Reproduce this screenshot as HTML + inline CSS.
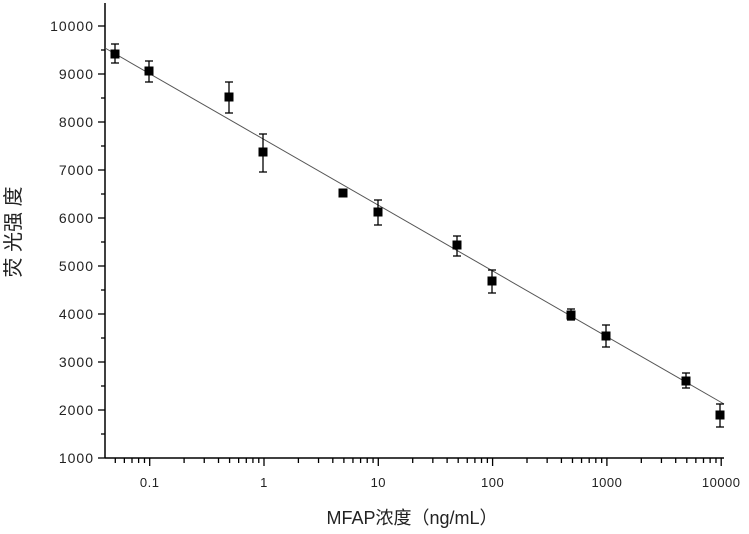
<!DOCTYPE html><html><head><style>body{margin:0;background:#fff}svg{display:block}</style></head><body>
<svg width="749" height="534" xmlns="http://www.w3.org/2000/svg" font-family="Liberation Sans, Noto Sans CJK SC, sans-serif">
<g stroke="#000" stroke-width="1.5" fill="none">
<line x1="105" y1="3" x2="105" y2="458"/>
<line x1="105" y1="458" x2="724" y2="458"/>
</g>
<g id="yt" stroke="#000" stroke-width="1.3"></g>
<g id="xt" stroke="#000" stroke-width="1.3"></g>
<g id="yl" font-size="14" fill="#222" text-anchor="end" letter-spacing="1"></g>
<g id="xl" font-size="13" fill="#222" text-anchor="middle" letter-spacing="0.5"></g>
<line x1="105" y1="48" x2="724" y2="404" stroke="#555" stroke-width="1"/>
<g id="pts" stroke="#000" stroke-width="1.3"></g>
<text x="412" y="524" font-size="18" text-anchor="middle" fill="#222">MFAP浓度（ng/mL）</text>
<text transform="translate(20,232) rotate(-90)" font-size="20" text-anchor="middle" fill="#222">荧 光强 度</text>
<script>
var ns="http://www.w3.org/2000/svg";
function el(p,t,a,tx){var e=document.createElementNS(ns,t);for(var k in a)e.setAttribute(k,a[k]);if(tx)e.textContent=tx;document.getElementById(p).appendChild(e);}
for(var v=1000;v<=10000;v+=500){var y=458-(v-1000)*0.048;var maj=v%1000==0;el('yt','line',{x1:maj?98:101,x2:105,y1:y,y2:y});if(maj)el('yl','text',{x:94,y:y+5},String(v));}
for(var d=-2;d<=4;d++){for(var m=1;m<10;m++){var x=264+114.3*(d+Math.log10(m));if(x<105||x>724)continue;el('xt','line',{x1:x,x2:x,y1:458,y2:m==1?466:463});if(m==1&&d>=-1)el('xl','text',{x:x,y:487},String(Math.pow(10,d)));}}
var P=[[115,54,44,63],[149,71,61,82],[229,97,82,113],[263,152,134,172],[343,193,190,196],[378,212,200,225],[457,245,236,256],[492,281,270,293],[571,315,309,320],[606,336,325,347],[686,381,373,388],[720,415,404,427]];
P.forEach(function(p){el('pts','line',{x1:p[0],x2:p[0],y1:p[2],y2:p[3]});el('pts','line',{x1:p[0]-4,x2:p[0]+4,y1:p[2],y2:p[2]});el('pts','line',{x1:p[0]-4,x2:p[0]+4,y1:p[3],y2:p[3]});el('pts','rect',{x:p[0]-4.5,y:p[1]-4.5,width:9,height:9,fill:'#000',stroke:'none'});});
</script>
</svg></body></html>
